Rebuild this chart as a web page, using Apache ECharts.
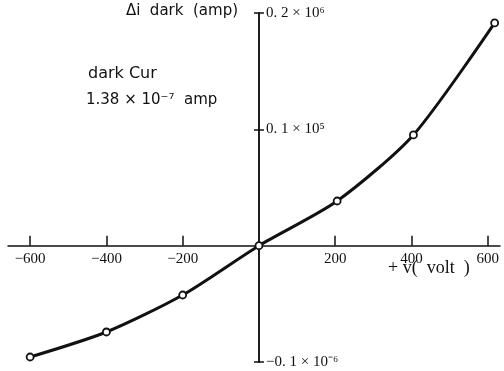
<!DOCTYPE html>
<html lang="en">
<head>
  <meta charset="utf-8">
  <title>dark current vs voltage</title>
  <script src="https://cdn.jsdelivr.net/npm/echarts@6/dist/echarts.min.js"></script>
  <style>
    html, body { margin: 0; padding: 0; background: #fff; }
    #chart { width: 504px; height: 371px; }
  </style>
</head>
<body>
<div id="chart"></div>
<script>
  // voltage (volt) and delta dark current (x 10^-6 amp)
  const volts = [-600, -400, -200, 0, 205, 405, 618];
  const darkCur = [-0.0957, -0.0742, -0.0424, 0, 0.0384, 0.0952, 0.1915];

  const xTicks = [-600, -400, -200, 200, 400, 600];
  const yTicks = [0.2, 0.1, -0.1];
  const yTickLabels = ['0. 2 × 10⁶', '0. 1 × 10⁵', '−0. 1 × 10⁻⁶'];

  const serif = 'Liberation Serif';
  const sans = 'DejaVu Sans';

  // grid box and axis ranges; the axes cross at (0, 0) inside the box
  const box = { left: 8, right: 4, top: 13, bottom: 9 };
  const xMin = -658, xMax = 632, yMin = -0.1, yMax = 0.2;
  const W = 504, H = 371;
  const plotW = W - box.left - box.right;
  const plotH = H - box.top - box.bottom;
  // ECharts v6 keeps labels at the grid edge with onZero, so shift the axes with offset
  const yAxisShift = -(0 - xMin) / (xMax - xMin) * plotW;
  const xAxisShift = -(0 - yMin) / (yMax - yMin) * plotH;

  const axisColor = '#111';
  const yTickFmt = v => yTickLabels[yTicks.findIndex(t => Math.abs(t - v) < 1e-9)] || '';

  let chart = echarts.init(document.getElementById('chart'));
  let option = {
    animation: false,
    backgroundColor: '#fff',
    grid: Object.assign({ outerBoundsMode: 'none', containLabel: false }, box),
    xAxis: {
      type: 'value',
      min: xMin,
      max: xMax,
      position: 'bottom',
      offset: xAxisShift,
      splitLine: { show: false },
      axisLine: { onZero: false, lineStyle: { color: axisColor, width: 1.5 } },
      axisTick: {
        show: true, inside: true, length: 10, customValues: xTicks,
        lineStyle: { color: axisColor, width: 1.5 }
      },
      axisLabel: {
        customValues: xTicks,
        margin: 6,
        color: axisColor,
        fontFamily: serif,
        fontSize: 15,
        formatter: v => (v < 0 ? '−' + Math.abs(v) : String(v))
      }
    },
    yAxis: [{
      type: 'value',
      min: yMin,
      max: yMax,
      position: 'left',
      offset: yAxisShift,
      splitLine: { show: false },
      axisLine: { onZero: false, lineStyle: { color: axisColor, width: 1.5 } },
      axisTick: {
        show: true, inside: true, length: 5, customValues: yTicks,
        lineStyle: { color: axisColor, width: 1.5 }
      },
      axisLabel: {
        inside: true,
        margin: 7,
        customValues: yTicks,
        color: axisColor,
        fontFamily: serif,
        fontSize: 15,
        formatter: yTickFmt
      }
    }, {
      // second copy only for the other half of the cross ticks
      type: 'value',
      min: yMin,
      max: yMax,
      position: 'left',
      offset: yAxisShift,
      splitLine: { show: false },
      axisLine: { onZero: false, lineStyle: { color: axisColor, width: 1.5 } },
      axisTick: {
        show: true, inside: false, length: 5, customValues: yTicks,
        lineStyle: { color: axisColor, width: 1.5 }
      },
      axisLabel: { show: false }
    }],
    graphic: [
      {
        type: 'text', right: W - 238, top: 4,
        style: { text: 'Δi  dark  (amp)', font: '15px ' + sans, fill: axisColor, textAlign: 'right' }
      },
      {
        type: 'text', left: 88, top: 66,
        style: { text: 'dark Cur', font: '16px ' + sans, fill: axisColor }
      },
      {
        type: 'text', left: 86, top: 93,
        style: { text: '1.38 × 10⁻⁷  amp', font: '15px ' + sans, fill: axisColor }
      },
      {
        type: 'text', left: 388, top: 259,
        style: { text: '+ v(  volt  )', font: '18px ' + serif, fill: axisColor }
      }
    ],
    series: [{
      type: 'line',
      smooth: 0.25,
      clip: false,
      data: volts.map((v, i) => [v, darkCur[i]]),
      lineStyle: { color: axisColor, width: 3 },
      symbol: 'circle',
      symbolSize: 7,
      itemStyle: { color: '#fff', borderColor: axisColor, borderWidth: 1.8 }
    }]
  };
  chart.setOption(option);
</script>
</body>
</html>
